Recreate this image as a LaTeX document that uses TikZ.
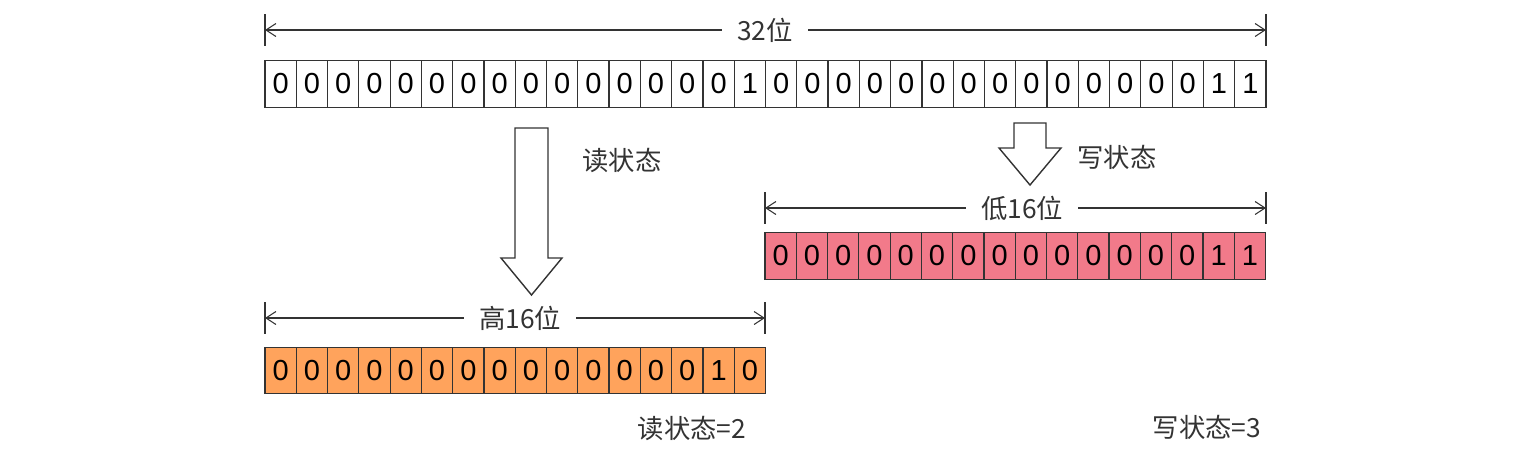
\documentclass[tikz,border=0pt]{standalone}
\usepackage{fontspec}
\setmainfont{Noto Sans CJK SC}
\newfontfamily\bitfont{Liberation Sans}
\usetikzlibrary{positioning, arrows.meta}
\definecolor{hibits}{HTML}{FFA35C}
\definecolor{lobits}{HTML}{F27A8A}
\definecolor{ink}{HTML}{333333}

\begin{document}
\begin{tikzpicture}[
    x=0.02cm, y=-0.02cm,
    font=\fontsize{15}{18}\selectfont,
    % Styles
    bit/.style={
        rectangle,
        draw=ink,
        line width=0.7pt,
        minimum width=0.6256cm,
        minimum height=0.93cm,
        inner sep=0pt,
        outer sep=0pt,
        text=black,
        font=\bitfont\fontsize{16.5}{18}\selectfont
      },
    span/.style={
        draw=ink,
        line width=0.6pt
      },
    spanlabel/.style={
        inner xsep=0.3cm,
        inner ysep=0pt,
        text=ink
      },
    tip/.style={
        -{Straight Barb[length=0.2cm, width=0.26cm]}
      },
    bigarrow/.style={
        draw=ink,
        line width=0.8pt,
        fill=white,
        line join=miter
      },
    note/.style={
        text=ink
      }
  ]
  \useasboundingbox (0,0) rectangle (1522,454);

  % 32 bits
  \foreach \b [count=\i from 0] in {0,0,0,0,0,0,0,0,0,0,0,0,0,0,0,1,0,0,0,0,0,0,0,0,0,0,0,0,0,0,1,1}
    \node[bit] (all-\i) at ({280.64+\i*31.28},84) {\b};

  % High 16 bits (read)
  \foreach \b [count=\i from 0] in {0,0,0,0,0,0,0,0,0,0,0,0,0,0,1,0}
    \node[bit, fill=hibits] (hi-\i) at ({280.64+\i*31.28},370.5) {\b};

  % Low 16 bits (write)
  \foreach \b [count=\i from 0] in {0,0,0,0,0,0,0,0,0,0,0,0,0,0,1,1}
    \node[bit, fill=lobits] (lo-\i) at ({780.64+\i*31.28},256) {\b};

  % Span markers
  \coordinate (all-l) at (265,30);
  \coordinate (all-r) at (1266,30);
  \node[spanlabel] (all-lab) at (765,30) {32位};
  \draw[span] ([yshift=0.32cm]all-l) -- ([yshift=-0.32cm]all-l);
  \draw[span] ([yshift=0.32cm]all-r) -- ([yshift=-0.32cm]all-r);
  \draw[span, tip] (all-lab) -- (all-l);
  \draw[span, tip] (all-lab) -- (all-r);

  \coordinate (hi-l) at (265,318);
  \coordinate (hi-r) at (765,318);
  \node[spanlabel] (hi-lab) at (520,318) {高16位};
  \draw[span] ([yshift=0.32cm]hi-l) -- ([yshift=-0.32cm]hi-l);
  \draw[span] ([yshift=0.32cm]hi-r) -- ([yshift=-0.32cm]hi-r);
  \draw[span, tip] (hi-lab) -- (hi-l);
  \draw[span, tip] (hi-lab) -- (hi-r);

  \coordinate (lo-l) at (765,208);
  \coordinate (lo-r) at (1266,208);
  \node[spanlabel] (lo-lab) at (1022,208) {低16位};
  \draw[span] ([yshift=0.32cm]lo-l) -- ([yshift=-0.32cm]lo-l);
  \draw[span] ([yshift=0.32cm]lo-r) -- ([yshift=-0.32cm]lo-r);
  \draw[span, tip] (lo-lab) -- (lo-l);
  \draw[span, tip] (lo-lab) -- (lo-r);

  % Hollow arrows
  \coordinate (rd-top) at (515,128);
  \draw[bigarrow] (rd-top) -- ++(33,0) -- ++(0,130) -- ++(14,0) -- ++(-30.5,37) -- ++(-30.5,-37) -- ++(14,0) -- cycle;
  \node[note] (rd-lab) at (622,160) {读状态};

  \coordinate (wr-top) at (1014,123);
  \draw[bigarrow] (wr-top) -- ++(32,0) -- ++(0,25) -- ++(15,0) -- ++(-31,37) -- ++(-31,-37) -- ++(15,0) -- cycle;
  \node[note] (wr-lab) at (1117,157) {写状态};

  % Results
  \node[note] (rd-val) at (692,428) {读状态=2};
  \node[note] (wr-val) at (1207,427) {写状态=3};

\end{tikzpicture}
\end{document}
